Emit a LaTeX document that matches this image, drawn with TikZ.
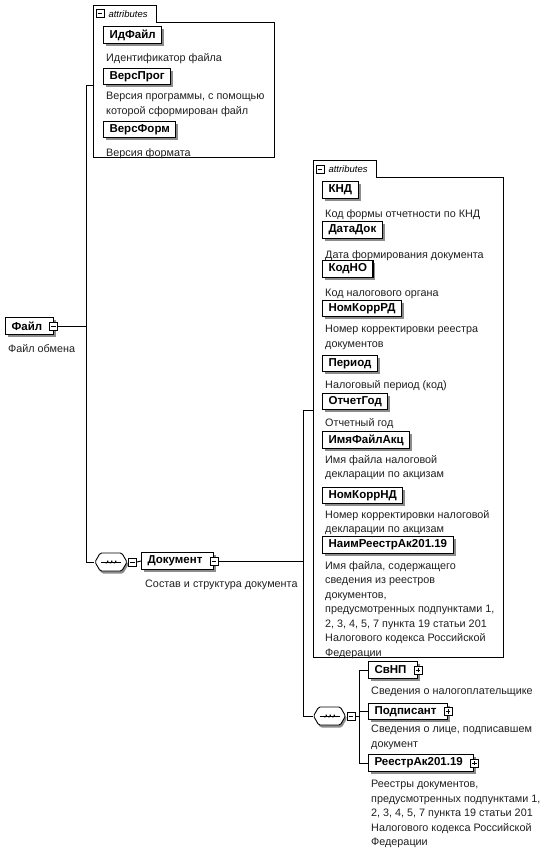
\documentclass[tikz,border=0pt]{standalone}
\usepackage{fontspec}
\setmainfont{Liberation Sans}
\usetikzlibrary{shadows,shapes.symbols}
\tikzset{
  el/.style={draw, line width=1.1pt, fill=white, anchor=west, minimum height=16.5pt,
    inner xsep=6pt, inner ysep=0pt, font=\fontsize{11.5}{13}\selectfont\bfseries,
    drop shadow={shadow xshift=2.5pt, shadow yshift=-2.5pt, fill=black!45, opacity=1}},
  desc/.style={anchor=north west, yshift=9pt, inner sep=0pt, align=left,
    font=\fontsize{10.8}{14.5}\selectfont, text=black!88,
    execute at begin node={\rule{0pt}{9pt}}},
  conn/.style={draw, line width=0.9pt},
  contbox/.style={draw, line width=0.8pt},
  area/.style={inner sep=0pt, anchor=north west},
  tabarea/.style={inner sep=0pt, anchor=south west, minimum width=63pt, minimum height=16pt},
  tabtext/.style={anchor=west, inner sep=0pt, font=\fontsize{9.5}{11}\selectfont\itshape},
  minusicon/.style={draw, fill=white, minimum size=8pt, inner sep=0pt, line width=0.6pt,
    path picture={\draw[line width=0.6pt] ([xshift=1.6pt]path picture bounding box.west) -- ([xshift=-1.6pt]path picture bounding box.east);}},
  plusicon/.style={draw, fill=white, minimum size=8pt, inner sep=0pt, line width=0.6pt,
    path picture={\draw[line width=0.6pt] ([xshift=1.6pt]path picture bounding box.west) -- ([xshift=-1.6pt]path picture bounding box.east)
      ([yshift=1.6pt]path picture bounding box.south) -- ([yshift=-1.6pt]path picture bounding box.north);}},
  seqsym/.style={draw, shape=signal, signal to=west and east, signal pointer angle=120,
    minimum width=32pt, minimum height=18pt, inner sep=0pt, fill=white, line width=0.9pt,
    rounded corners=1.5pt,
    drop shadow={shadow xshift=1.5pt, shadow yshift=-2.5pt, fill=black!45, opacity=1}},
}
\newcommand{\seqdots}[1]{%
  \draw[line width=0.7pt] ([xshift=-10pt]#1.center) -- ([xshift=10pt]#1.center);
  \foreach \dx in {-4,0,4}{\fill ([xshift=\dx pt]#1.center) rectangle ++(1.4pt,1.3pt) ([xshift=\dx pt]#1.center) rectangle ++(-1.4pt,-1.3pt);}%
}
\begin{document}
\begin{tikzpicture}[x=1pt,y=-1pt]
\useasboundingbox (0,0) rectangle (548,848);

% ---------- top attributes container ----------
\node[area, minimum width=181pt, minimum height=135pt] (attrA) at (93,22) {};
\node[tabarea] (attrAtab) at (attrA.north west) {};
\draw[contbox] (attrA.south west) -- (attrAtab.north west) -- (attrAtab.north east)
  -- (attrAtab.south east) -- (attrA.north east) -- (attrA.south east) -- cycle;
\node[minusicon] (attrAicon) at ([xshift=7pt]attrAtab.west) {};
\node[tabtext] (attrAlbl) at ([xshift=4pt]attrAicon.east) {attributes};

\node[el] (idfile) at (103,35) {ИдФайл};
\node[desc] (idfiled) at (106,61) {Идентификатор файла};
\node[el] (versprog) at (103,76.5) {ВерсПрог};
\node[desc] (versprogd) at (106,101) {Версия программы, с помощью\\которой сформирован файл};
\node[el] (versform) at (103,129.5) {ВерсФорм};
\node[desc] (versformd) at (106,156) {Версия формата};

% ---------- root ----------
\node[el] (file) at (5,326) {Файл\hspace*{5pt}};
\node[minusicon] (fileicon) at (file.east) {};
\node[desc] (filed) at (8,352) {Файл обмена};

\coordinate (jA) at (86,326);
\draw[conn] (fileicon.east) -- (jA);
\draw[conn] (jA) |- ([yshift=4.5pt]attrA.west);

% ---------- sequence 1 ----------
\node[seqsym] (seq1) at (111,562) {};
\seqdots{seq1}
\draw[conn] (jA) |- (seq1.west);
\node[minusicon] (seq1icon) at ([xshift=5pt]seq1.east) {};

\node[el] (doc) at (141,561) {Документ\hspace*{5pt}};
\node[minusicon] (docicon) at (doc.east) {};
\draw[conn] (seq1icon.east) -- (doc.west);
\node[desc] (docd) at (145,587) {Состав и структура документа};

% ---------- middle attributes container ----------
\node[area, minimum width=190pt, minimum height=480pt] (attrB) at (313,177) {};
\node[tabarea] (attrBtab) at (attrB.north west) {};
\draw[contbox] (attrB.south west) -- (attrBtab.north west) -- (attrBtab.north east)
  -- (attrBtab.south east) -- (attrB.north east) -- (attrB.south east) -- cycle;
\node[minusicon] (attrBicon) at ([xshift=7pt]attrBtab.west) {};
\node[tabtext] (attrBlbl) at ([xshift=4pt]attrBicon.east) {attributes};

\node[el] (knd) at (322,190) {КНД};
\node[desc] (kndd) at (325,217) {Код формы отчетности по КНД};
\node[el] (datadok) at (322,230) {ДатаДок};
\node[desc] (datadokd) at (325,258) {Дата формирования документа};
\node[el] (kodno) at (322,269) {КодНО};
\node[desc] (kodnod) at (325,296) {Код налогового органа};
\node[el] (nomkorrrd) at (322,308.5) {НомКоррРД};
\node[desc] (nomkorrrdd) at (325,334) {Номер корректировки реестра\\документов};
\node[el] (period) at (322,363.5) {Период};
\node[desc] (periodd) at (325,388) {Налоговый период (код)};
\node[el] (otchgod) at (322,401.5) {ОтчетГод};
\node[desc] (otchgodd) at (325,426) {Отчетный год};
\node[el] (imyafile) at (322,440) {ИмяФайлАкц};
\node[desc] (imyafiled) at (325,464) {Имя файла налоговой\\декларации по акцизам};
\node[el] (nomkorrnd) at (322,495.5) {НомКоррНД};
\node[desc] (nomkorrndd) at (325,519) {Номер корректировки налоговой\\декларации по акцизам};
\node[el] (naim) at (322,545) {НаимРеестрАк201.19};
\node[desc] (naimd) at (325,570) {Имя файла, содержащего\\сведения из реестров\\документов,\\предусмотренных подпунктами 1,\\2, 3, 4, 5, 7 пункта 19 статьи 201\\Налогового кодекса Российской\\Федерации};

\coordinate (jB) at (303,561);
\draw[conn] (docicon.east) -- (jB);
\draw[conn] (jB) |- ([yshift=7pt]attrB.west);

% ---------- sequence 2 ----------
\node[seqsym] (seq2) at (329.5,716) {};
\seqdots{seq2}
\draw[conn] (jB) |- (seq2.west);
\node[minusicon] (seq2icon) at ([xshift=5pt]seq2.east) {};

\node[el] (svnp) at (368,670) {СвНП\hspace*{5pt}};
\node[plusicon] (svnpicon) at (svnp.east) {};
\node[desc] (svnpd) at (371,694) {Сведения о налогоплательщике};
\node[el] (podp) at (368,711.5) {Подписант\hspace*{5pt}};
\node[plusicon] (podpicon) at (podp.east) {};
\node[desc] (podpd) at (371,734) {Сведения о лице, подписавшем\\документ};
\node[el] (reestr) at (368,763) {РеестрАк201.19\hspace*{5pt}};
\node[plusicon] (reestricon) at (reestr.east) {};
\node[desc] (reestrd) at (371,789) {Реестры документов,\\предусмотренных подпунктами 1,\\2, 3, 4, 5, 7 пункта 19 статьи 201\\Налогового кодекса Российской\\Федерации};

\coordinate (jC) at (359,716);
\draw[conn] (seq2icon.east) -- (jC);
\draw[conn] (jC) |- (svnp.west);
\draw[conn] (jC) |- (podp.west);
\draw[conn] (jC) |- (reestr.west);
\end{tikzpicture}
\end{document}
